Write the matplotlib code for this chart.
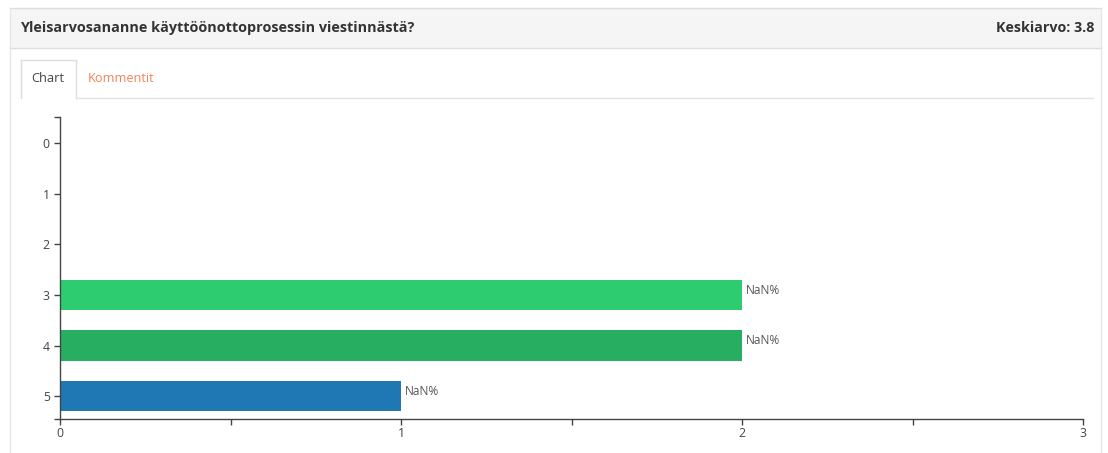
import matplotlib
matplotlib.use('Agg')

import matplotlib.pyplot as plt
import matplotlib.patches as patches
from matplotlib.lines import Line2D
from matplotlib.ticker import MultipleLocator, FixedLocator

# ── Data ──────────────────────────────────────────────────────────────────────
QUESTION   = 'Yleisarvosananne käyttöönottoprosessin viestinnästä?'
AVERAGE    = 'Keskiarvo: 3.8'
TABS       = ['Chart', 'Kommentit']
grades     = [0, 1, 2, 3, 4, 5]
counts     = [0, 0, 0, 2, 2, 1]
bar_labels = ['', '', '', 'NaN%', 'NaN%', 'NaN%']
bar_colors = ['#2ecc71', '#2ecc71', '#2ecc71', '#2ecc71', '#27ae60', '#1f77b4']
x_max      = 3

# ── Page geometry (pixels) ────────────────────────────────────────────────────
W, H = 1108, 453
plt.rcParams['font.family'] = ['Open Sans', 'DejaVu Sans']

fig = plt.figure(figsize=(W / 100, H / 100), dpi=100)
fig.patch.set_facecolor('white')


def fx(x):
    return x / W


def fy(y):
    return 1 - y / H


def hline(x0, x1, y, color, lw=1.0):
    fig.add_artist(Line2D([fx(x0), fx(x1)], [fy(y), fy(y)], color=color, lw=lw,
                          transform=fig.transFigure))


def vline(x, y0, y1, color, lw=1.0):
    fig.add_artist(Line2D([fx(x), fx(x)], [fy(y0), fy(y1)], color=color, lw=lw,
                          transform=fig.transFigure))


# panel header
fig.add_artist(patches.Rectangle((fx(9.5), fy(47.5)), fx(1101) - fx(9.5), fy(7.5) - fy(47.5),
                                 transform=fig.transFigure, facecolor='#f5f5f5',
                                 edgecolor='none'))
hline(9.5, 1101, 7.5, '#dddddd')
hline(9.5, 1101, 47.5, '#dddddd')
vline(9.5, 7.5, H, '#e6e6e6')
vline(1101, 7.5, H, '#e6e6e6')

fig.text(fx(20), fy(28), QUESTION, fontsize=10.4, fontweight='bold', color='#333333',
         ha='left', va='center')
fig.text(fx(1094), fy(28), AVERAGE, fontsize=10.3, fontweight='bold', color='#333333',
         ha='right', va='center')

# tabs
vline(20.5, 59.5, 97.5, '#dddddd')
vline(76, 59.5, 97.5, '#dddddd')
hline(20.5, 76, 59.5, '#dddddd')
hline(76, 1093, 97.5, '#e3e3e3')
fig.text(fx(48), fy(78), TABS[0], fontsize=9.3, color='#444444', ha='center', va='center')
fig.text(fx(88), fy(78), TABS[1], fontsize=9.2, color='#f0845a', ha='left', va='center')

# ── Chart ─────────────────────────────────────────────────────────────────────
ax_l, ax_r, ax_t, ax_b = 60, 1083, 117, 419
ax = fig.add_axes([fx(ax_l), fy(ax_b), fx(ax_r) - fx(ax_l), fy(ax_t) - fy(ax_b)])
ax.set_facecolor('none')

ax.barh(grades, counts, height=0.6, color=bar_colors, edgecolor='none')
for g, c, lab in zip(grades, counts, bar_labels):
    if lab:
        ax.annotate(lab, (c, g), xytext=(3, 3.5), textcoords='offset points',
                    ha='left', va='center', fontsize=8.6, color='#555555')

ax.set_xlim(0, x_max)
ax.set_ylim(5.45, -0.52)

axis_color = '#444444'
for side in ('top', 'right'):
    ax.spines[side].set_visible(False)
for side in ('left', 'bottom'):
    ax.spines[side].set_color(axis_color)
    ax.spines[side].set_linewidth(1.0)

ax.xaxis.set_major_locator(MultipleLocator(1))
ax.xaxis.set_minor_locator(MultipleLocator(0.5))
ax.set_yticks(grades)
ax.yaxis.set_minor_locator(FixedLocator([-0.52, 5.45]))

ax.tick_params(axis='both', which='both', direction='out', length=4.3, width=1.0,
               color=axis_color, labelcolor='#444444', labelsize=8.8)
ax.tick_params(axis='x', which='major', pad=1.5)
ax.tick_params(axis='y', which='major', pad=3)

fig.savefig('out.png', dpi=100)
